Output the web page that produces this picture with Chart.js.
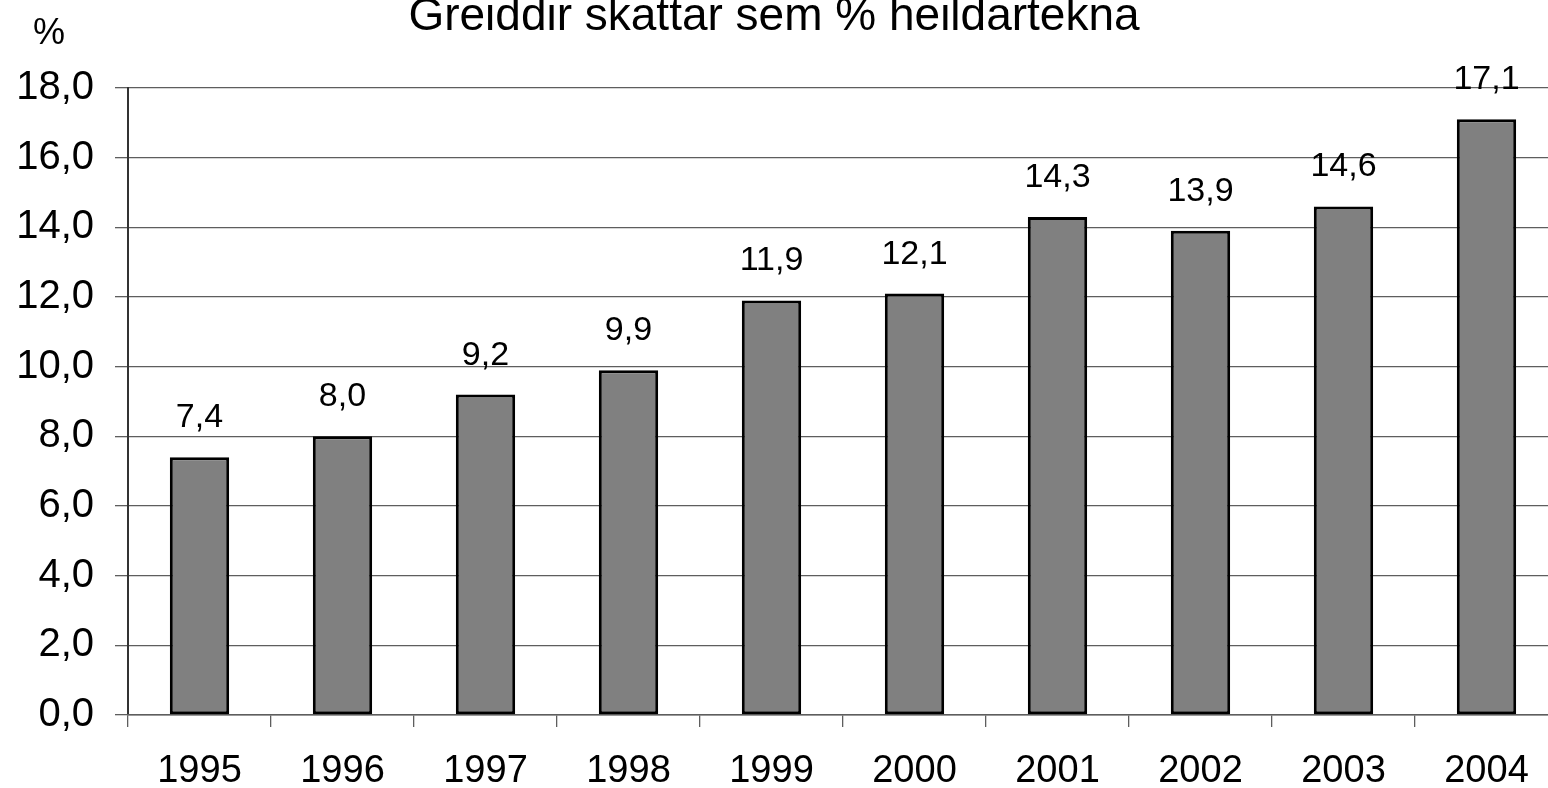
<!DOCTYPE html>
<html>
<head>
<meta charset="utf-8">
<script src="https://cdn.jsdelivr.net/npm/chart.js@4"></script>
<style>
  html, body { margin: 0; padding: 0; background: #fff; overflow: hidden; }
  #wrap { width: 1560px; height: 788px; }
</style>
</head>
<body>
<div id="wrap"><canvas id="chart" width="1560" height="788"></canvas></div>
<script>
// Gögn
const years = ["1995", "1996", "1997", "1998", "1999", "2000", "2001", "2002", "2003", "2004"];
const taxShare = [7.4, 8.0, 9.2, 9.9, 11.9, 12.1, 14.3, 13.9, 14.6, 17.1];
const titleText = "Greiddir skattar sem % heildartekna";
const unitText = "%";

const FONT = "'Liberation Sans', Arial, Helvetica, sans-serif";

// tölur með kommu
function fmt(v) {
    return v.toFixed(1).replace(".", ",");
}

// titill og eining
const headerPlugin = {
    id: "header",
    afterDraw(chart) {
        const ctx = chart.ctx;
        ctx.save();
        ctx.fillStyle = "#000";
        ctx.textBaseline = "alphabetic";
        ctx.textAlign = "center";
        ctx.font = "46px " + FONT;
        ctx.fillText(titleText, 774, 30);
        ctx.font = "36px " + FONT;
        ctx.fillText(unitText, 49, 44);
        ctx.restore();
    }
};

// gildi ofan á súlum
const valueLabels = {
    id: "valueLabels",
    afterDatasetsDraw(chart) {
        const ctx = chart.ctx;
        const meta = chart.getDatasetMeta(0);
        ctx.save();
        ctx.fillStyle = "#000";
        ctx.font = "34px " + FONT;
        ctx.textAlign = "center";
        ctx.textBaseline = "alphabetic";
        meta.data.forEach((bar, i) => {
            ctx.fillText(fmt(taxShare[i]), bar.x, bar.y - 30);
        });
        ctx.restore();
    }
};

new Chart(document.getElementById("chart").getContext("2d"), {
    type: "bar",
    data: {
        labels: years,
        datasets: [{
            data: taxShare,
            backgroundColor: "#808080",
            borderColor: "#000",
            borderWidth: 3,
            borderSkipped: false,
            categoryPercentage: 1,
            barPercentage: 0.415
        }]
    },
    options: {
        responsive: false,
        animation: false,
        layout: { padding: { top: 88, right: 2, left: 0, bottom: 0 } },
        plugins: {
            legend: { display: false },
            title: { display: false },
            tooltip: { enabled: false }
        },
        scales: {
            y: {
                min: 0,
                max: 18,
                ticks: {
                    stepSize: 2,
                    color: "#000",
                    font: { family: FONT, size: 40 },
                    padding: 21,
                    callback: v => fmt(v)
                },
                grid: { color: "#5e5e5e", lineWidth: 1.3, tickLength: 13 },
                border: { color: "#333", width: 2 },
                afterFit(s) { s.width = 128; }
            },
            x: {
                ticks: {
                    color: "#000",
                    font: { family: FONT, size: 38 },
                    padding: 22
                },
                grid: { drawOnChartArea: false, color: "#5e5e5e", lineWidth: 1.3, tickLength: 12, offset: true },
                border: { color: "#5e5e5e", width: 1.5 },
                afterFit(s) { s.height = 73; }
            }
        }
    },
    plugins: [headerPlugin, valueLabels]
});
</script>
</body>
</html>
